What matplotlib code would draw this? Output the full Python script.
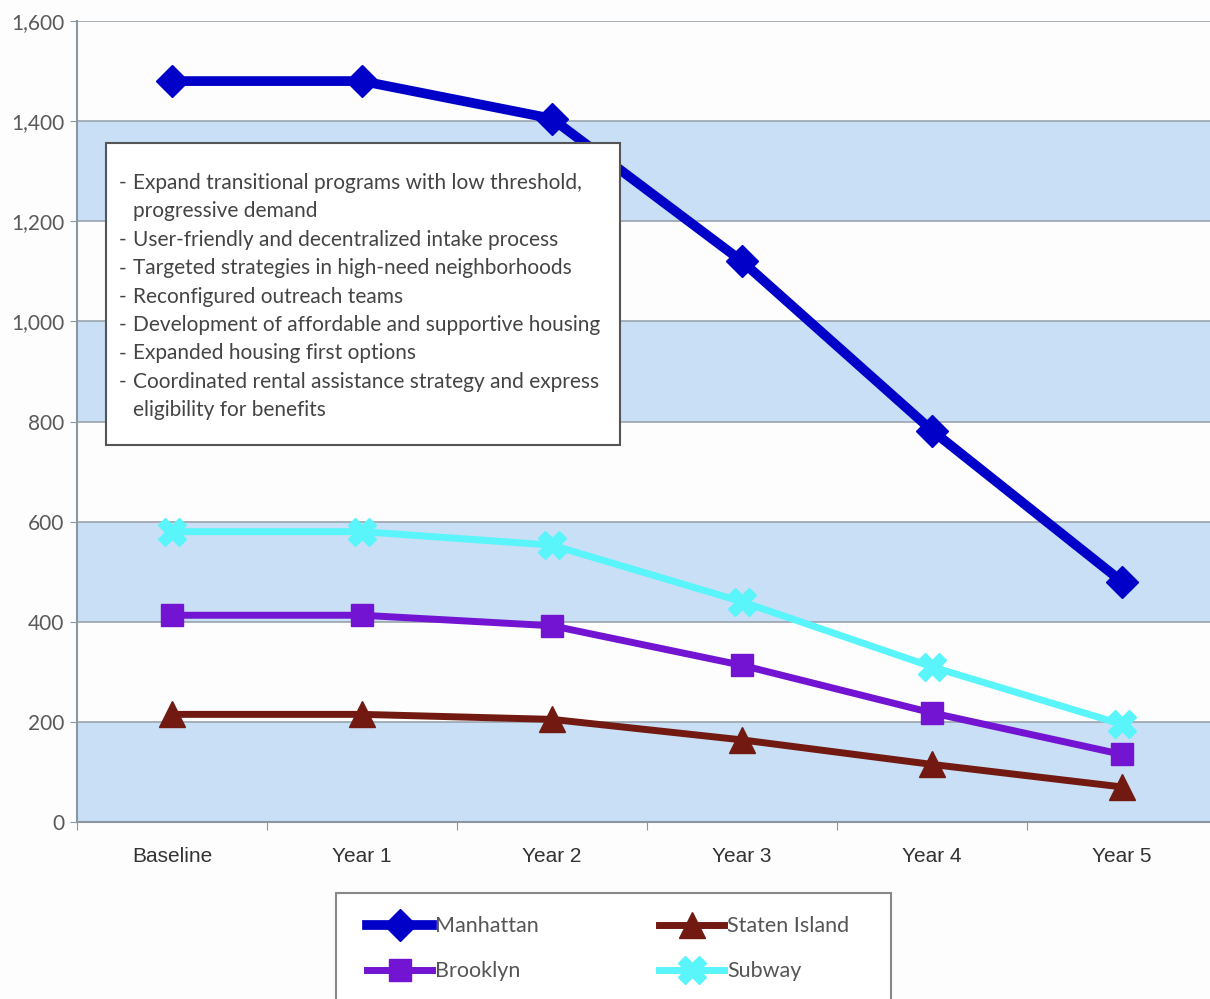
import matplotlib.pyplot as plt
from matplotlib.patches import Rectangle

categories = ["Baseline", "Year 1", "Year 2", "Year 3", "Year 4", "Year 5"]
manhattan = [1480, 1480, 1405, 1120, 782, 480]
brooklyn = [413, 413, 392, 313, 218, 135]
staten_island = [215, 215, 205, 164, 115, 70]
subway = [580, 580, 553, 440, 310, 195]

strategies = [
    ["Expand transitional programs with low threshold,", "progressive demand"],
    ["User-friendly and decentralized intake process"],
    ["Targeted strategies in high-need neighborhoods"],
    ["Reconfigured outreach teams"],
    ["Development of affordable and supportive housing"],
    ["Expanded housing first options"],
    ["Coordinated rental assistance strategy and express", "eligibility for benefits"],
]

W, H = 1210, 999
fig = plt.figure(figsize=(W / 100, H / 100), dpi=100, facecolor="#fdfdfd")
ax = fig.add_axes([77 / W, 1 - 822 / H, 1140 / W, 801 / H])
ax.set_facecolor("#fdfdfd")

# alternating bands
band = "#c8dff5"
for lo in range(0, 1600, 400):
    ax.axhspan(lo, lo + 200, color=band, lw=0, zorder=0)
    ax.axhspan(lo + 200, lo + 400, color="#fdfdfd", lw=0, zorder=0)
ax.set_ylim(0, 1600)
ax.set_xlim(0, 6)
ax.set_yticks(range(0, 1601, 200))
ax.set_yticklabels([f"{v:,}" for v in range(0, 1601, 200)],
                   family="Lato", fontsize=15, color="#5a5a5a")
ax.yaxis.grid(True, color="#9aa4ae", lw=1.2)
ax.set_axisbelow(True)
ax.tick_params(axis="y", length=5, color="#8a96a0", pad=4)

xs = [i + 0.5 for i in range(len(categories))]
ax.set_xticks(range(0, 7))
ax.set_xticklabels([])
ax.set_xticks(xs, minor=True)
ax.set_xticklabels(categories, minor=True, family="Liberation Sans",
                   fontsize=15, color="#333333")
ax.tick_params(axis="x", which="major", length=6, color="#8a96a0")
ax.tick_params(axis="x", which="minor", length=0, pad=18)

for s in ["top", "right"]:
    ax.spines[s].set_visible(False)
for s in ["left", "bottom"]:
    ax.spines[s].set_color("#8a96a0")
    ax.spines[s].set_linewidth(1.5)

h_man, = ax.plot(xs, manhattan, color="#0000c8", lw=7, marker="D", ms=16,
                 label="Manhattan", zorder=5, clip_on=False)
h_brk, = ax.plot(xs, brooklyn, color="#7214d2", lw=5, marker="s", ms=16,
                 label="Brooklyn", zorder=4, clip_on=False)
h_sta, = ax.plot(xs, staten_island, color="#721a12", lw=5, marker="^", ms=19,
                 label="Staten Island", zorder=4, clip_on=False)
h_sub, = ax.plot(xs, subway, color="#5af5fa", lw=5, marker="X", ms=20,
                 label="Subway", zorder=4, clip_on=False)

# strategies box
fig.patches.append(Rectangle((106 / W, 1 - 445 / H), 514 / W, 302 / H,
                             transform=fig.transFigure, facecolor="white",
                             edgecolor="#555555", lw=1.5, zorder=10))
line_y = 183
for item in strategies:
    for j, txt in enumerate(item):
        if j == 0:
            fig.text(119 / W, 1 - line_y / H, "-", family="Lato", fontsize=15,
                     color="#444444", va="center", zorder=11)
        fig.text(133 / W, 1 - line_y / H, txt, family="Lato", fontsize=15,
                 color="#444444", va="center", zorder=11)
        line_y += 28.4

# legend box
fig.patches.append(Rectangle((336 / W, -0.01), 555 / W, 1 - 893 / H + 0.01,
                             transform=fig.transFigure, facecolor="white",
                             edgecolor="#888888", lw=1.5, zorder=1))
leg = fig.legend([h_man, h_brk, h_sta, h_sub],
                 ["Manhattan", "Brooklyn", "Staten Island", "Subway"],
                 ncol=2, loc="upper left", bbox_to_anchor=(348 / W, 1 - 897 / H),
                 frameon=False, handlelength=3.0, handletextpad=0.15,
                 columnspacing=5.6, labelspacing=1.15,
                 prop={"family": "Lato", "size": 15.5}, markerscale=1.0)
for t in leg.get_texts():
    t.set_color("#555555")
leg.set_zorder(12)

fig.savefig("out.png", dpi=100, facecolor=fig.get_facecolor())
